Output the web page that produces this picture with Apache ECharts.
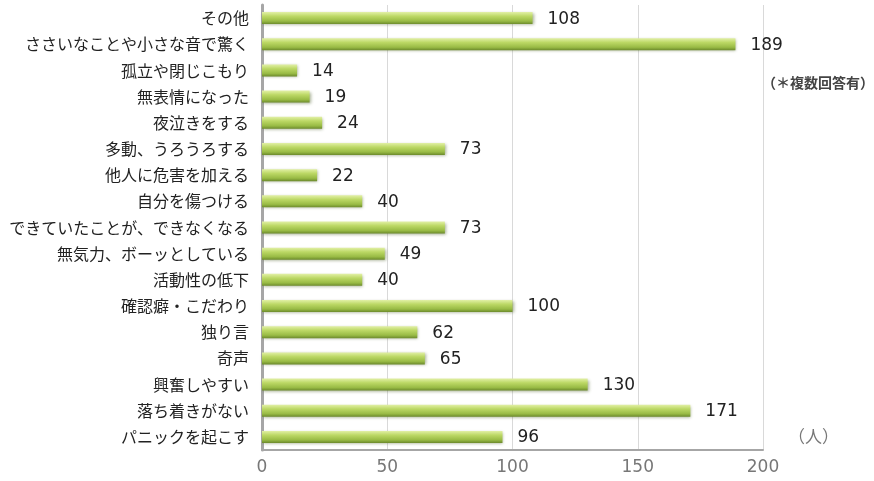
<!DOCTYPE html>
<html>
<head>
<meta charset="utf-8">
<script src="https://cdn.jsdelivr.net/npm/echarts@6/dist/echarts.min.js"></script>
<style>
  html, body { margin: 0; padding: 0; background: #fff; }
  #chart { width: 874px; height: 481px; }
</style>
</head>
<body>
<div id="chart"></div>
<script>
// Categories listed bottom-to-top (category axis runs upward)
const categories = [
  'パニックを起こす',
  '落ち着きがない',
  '興奮しやすい',
  '奇声',
  '独り言',
  '確認癖・こだわり',
  '活動性の低下',
  '無気力、ボーッとしている',
  'できていたことが、できなくなる',
  '自分を傷つける',
  '他人に危害を加える',
  '多動、うろうろする',
  '夜泣きをする',
  '無表情になった',
  '孤立や閉じこもり',
  'ささいなことや小さな音で驚く',
  'その他'
];
const counts = [96, 171, 130, 65, 62, 100, 40, 49, 73, 40, 22, 73, 24, 19, 14, 189, 108];
const xTicks = { min: 0, max: 200, step: 50 };
const unitLabel = '（人）';
const noteLabel = '（＊複数回答有）';

const jpFont = '"Noto Sans CJK JP", "Noto Sans", sans-serif';
const numFont = '"DejaVu Sans", "Noto Sans", sans-serif';
const chart = echarts.init(document.getElementById('chart'));

chart.setOption({
  animation: false,
  textStyle: { fontFamily: jpFont },
  grid: { left: 262, right: 111, top: 5, bottom: 31 },
  xAxis: {
    type: 'value',
    min: xTicks.min,
    max: xTicks.max,
    interval: xTicks.step,
    axisLine: { show: true, lineStyle: { color: '#a6a6a6', width: 2 } },
    axisTick: { show: false },
    splitLine: { lineStyle: { color: '#d9d9d9', width: 1 } },
    axisLabel: { color: '#777', fontSize: 17, margin: 9, fontFamily: numFont }
  },
  yAxis: {
    type: 'category',
    data: categories,
    axisLine: { show: true, lineStyle: { color: '#a6a6a6', width: 3 } },
    axisTick: { show: false },
    axisLabel: { color: '#222', fontSize: 16, margin: 13, fontFamily: jpFont }
  },
  series: [{
    type: 'bar',
    data: counts,
    barWidth: 12,
    itemStyle: {
      color: new echarts.graphic.LinearGradient(0, 0, 0, 1, [
        { offset: 0, color: '#e2f0a6' },
        { offset: 0.35, color: '#bcd865' },
        { offset: 0.75, color: '#99bb45' },
        { offset: 1, color: '#6c8a2c' }
      ]),
      shadowColor: 'rgba(60,80,20,0.45)',
      shadowBlur: 3,
      shadowOffsetX: 1,
      shadowOffsetY: 1
    },
    label: {
      show: true,
      position: 'right',
      distance: 15,
      offset: [0, 1],
      color: '#222',
      fontSize: 17,
      fontFamily: numFont
    }
  }],
  graphic: [
    {
      type: 'text',
      left: 762,
      top: 76,
      style: { text: noteLabel, fill: '#444', fontSize: 14, fontWeight: 'bold', fontFamily: jpFont }
    },
    {
      type: 'text',
      left: 788,
      top: 428,
      style: { text: unitLabel, fill: '#777', fontSize: 17, fontFamily: jpFont }
    }
  ]
});
</script>
</body>
</html>
